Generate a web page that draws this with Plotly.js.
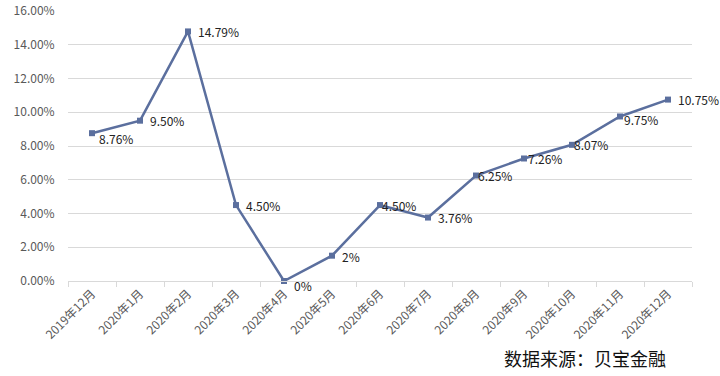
<!DOCTYPE html>
<html>
<head>
<meta charset="utf-8">
<script src="https://cdn.plot.ly/plotly-3.0.1.min.js"></script>
<style>html,body{margin:0;padding:0;background:#fff;}#chart{width:720px;height:376px;}</style>
</head>
<body>
<div id="chart"></div>
<script>
const categories = ["2019年12月","2020年1月","2020年2月","2020年3月","2020年4月","2020年5月","2020年6月","2020年7月","2020年8月","2020年9月","2020年10月","2020年11月","2020年12月"];
const values = [8.76, 9.50, 14.79, 4.50, 0, 1.5, 4.50, 3.76, 6.25, 7.26, 8.07, 9.75, 10.75];
const pointLabels = ["8.76%","9.50%","14.79%","4.50%","0%","2%","4.50%","3.76%","6.25%","7.26%","8.07%","9.75%","10.75%"];
const yTickValues = [0, 2, 4, 6, 8, 10, 12, 14, 16];
const yTickLabels = ["0.00%","2.00%","4.00%","6.00%","8.00%","10.00%","12.00%","14.00%","16.00%"];
const sourceNote = "数据来源：贝宝金融";

const FONT = "'Noto Sans CJK SC', 'Noto Sans', sans-serif";
const labelShiftY = [-5, 0, 0, 0, -4, -1, 0, 0, 0, 0, 0, -3, 0];
const labelShiftX = [5, 8, 8, 8, 8, 8, 0, 8, 0, 2, 0, 2, 8];

const trace = {
  x: categories,
  y: values,
  type: "scatter",
  mode: "lines+markers",
  line: {color: "#5b6f9e", width: 2.5},
  marker: {symbol: "square", size: 6, color: "#5b6f9e"},
  cliponaxis: false,
  hoverinfo: "skip"
};
const annotations = categories.map((c, i) => ({
  x: c, y: values[i], xref: "x", yref: "y",
  text: pointLabels[i], showarrow: false,
  xanchor: "left", yanchor: "middle",
  xshift: labelShiftX[i], yshift: labelShiftY[i],
  font: {family: FONT, size: 12, color: "#222"}
}));
annotations.push({
  text: sourceNote, xref: "paper", yref: "paper",
  x: 0.828, y: -0.285, xanchor: "center", yanchor: "middle",
  showarrow: false, font: {family: FONT, size: 18, color: "#111"}
});
const layout = {
  width: 720, height: 376,
  margin: {l: 68, r: 28, t: 11, b: 95},
  paper_bgcolor: "#fff", plot_bgcolor: "#fff",
  showlegend: false,
  font: {family: FONT, color: "#595959", size: 12},
  xaxis: {
    type: "category",
    range: [-0.5, 12.5],
    tickangle: -45,
    tickson: "boundaries",
    ticks: "outside", ticklen: 5, tickcolor: "#d9d9d9",
    showline: true, linecolor: "#d9d9d9", linewidth: 1,
    showgrid: false, zeroline: false,
    tickfont: {family: FONT, size: 12, color: "#595959"}
  },
  yaxis: {
    range: [0, 16],
    tickvals: yTickValues,
    ticktext: yTickLabels,
    showgrid: true, gridcolor: "#d9d9d9", gridwidth: 1,
    zeroline: false, showline: false,
    ticks: "outside", ticklen: 10, tickcolor: "rgba(0,0,0,0)",
    tickfont: {family: FONT, size: 12, color: "#595959"}
  },
  annotations: annotations
};
Plotly.newPlot("chart", [trace], layout, {displayModeBar: false, staticPlot: true});
</script>
</body>
</html>
